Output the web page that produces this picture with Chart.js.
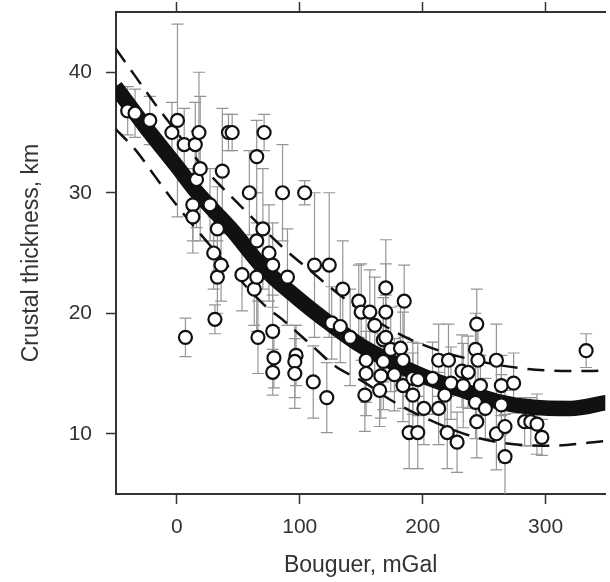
<!DOCTYPE html>
<html>
<head>
<meta charset="utf-8">
<script src="https://cdn.jsdelivr.net/npm/chart.js@4/dist/chart.umd.min.js"></script>
<style>
  html, body { margin: 0; padding: 0; background: #fff; overflow: hidden; }
  #wrap { width: 610px; height: 582px; overflow: hidden; }
  canvas { display: block; }
</style>
</head>
<body>
<div id="wrap"><canvas id="crustChart" width="614" height="582"></canvas></div>
<script>
// station values: Bouguer anomaly (mGal), crustal thickness (km), half error (km)
const bouguer = [
   -40, -34, -22, -4, 0.5, 6, 7, 13, 13, 15, 16, 18, 19, 27, 30, 31, 33, 33, 36, 37,
   42, 45, 53, 59, 63, 65, 65, 65, 66, 70, 71, 75, 78, 78, 79, 78, 86, 90, 97, 96,
   96, 104, 111, 112, 122, 124, 126, 133, 135, 141, 148, 150, 153, 154, 154, 157, 161, 165, 166, 168,
   168, 170, 170, 170, 174, 177, 182, 184, 184, 185, 189, 192, 192, 196, 196, 201, 208, 213, 213, 218,
   220, 221, 223, 228, 232, 233, 237, 243, 243, 244, 244, 245, 247, 251, 260, 260, 264, 264, 267, 267,
   274, 283, 288, 293, 297, 333,
];
const thickness = [
   36.8, 36.6, 36.0, 35.0, 36.0, 34.0, 18.0, 29.0, 28.0, 34.0, 31.1, 35.0, 32.0, 29.0, 25.0, 19.5, 27.0, 23.0, 24.0, 31.8,
   35.0, 35.0, 23.2, 30.0, 22.0, 33.0, 26.0, 23.0, 18.0, 27.0, 35.0, 25.0, 24.0, 18.5, 16.3, 15.1, 30.0, 23.0, 16.5, 16.0,
   15.0, 30.0, 14.3, 24.0, 13.0, 24.0, 19.2, 18.9, 22.0, 18.0, 21.0, 20.1, 13.2, 16.1, 15.0, 20.1, 19.0, 13.6, 14.8, 16.0,
   17.8, 22.1, 20.1, 18.0, 17.0, 14.9, 17.1, 16.1, 14.0, 21.0, 10.1, 13.2, 14.6, 14.5, 10.1, 12.1, 14.6, 16.1, 12.1, 13.2,
   10.1, 16.1, 14.2, 9.3, 15.2, 14.0, 15.1, 17.0, 12.6, 19.1, 11.0, 16.1, 14.0, 12.1, 16.1, 10.0, 14.0, 12.4, 10.6, 8.1,
   14.2, 11.0, 11.0, 10.8, 9.7, 16.9,
];
const errHalf = [
   2.0, 2.0, 2.0, 2.5, 8.0, 3.0, 1.6, 3.0, 3.0, 3.5, 4.0, 5.0, 6.0, 3.0, 3.0, 1.2, 3.5, 3.0, 3.0, 5.2,
   1.5, 1.5, 3.0, 3.5, 3.0, 3.0, 4.0, 4.5, 3.0, 5.0, 1.5, 4.0, 3.5, 3.0, 2.5, 1.9, 4.0, 4.0, 2.5, 3.0,
   2.9, 1.0, 3.0, 6.0, 2.9, 6.0, 3.0, 3.0, 4.0, 4.0, 3.0, 4.0, 3.0, 3.5, 3.5, 3.5, 4.0, 3.0, 3.5, 4.0,
   3.5, 4.0, 4.0, 3.5, 3.5, 3.0, 3.5, 4.0, 3.0, 3.0, 3.0, 3.5, 3.0, 3.0, 3.0, 3.0, 3.0, 3.0, 3.0, 3.0,
   3.0, 3.0, 3.0, 2.5, 3.0, 3.5, 3.0, 3.0, 3.0, 2.9, 3.0, 3.0, 2.5, 2.5, 3.0, 3.0, 2.5, 2.5, 3.0, 3.5,
   2.5, 2.0, 2.0, 2.5, 1.5, 1.4,
];

// fitted curve and its dashed bounds
const fitX = [-50, -25, 0, 15, 45, 70, 100, 125, 150, 170, 200, 230, 260, 290, 320, 350];
const fitY = [38.8, 35.4, 32.2, 30.2, 26.9, 23.8, 21.1, 19.1, 17.3, 16.2, 14.8, 13.7, 12.7, 12.2, 12.1, 12.6];
const upperX = [-50, -34, -18, 0, 20, 50, 88, 109, 129, 150, 170, 195, 230, 283, 336, 350];
const upperY = [42.0, 39.7, 37.4, 35.0, 32.3, 29.1, 25.3, 23.5, 21.8, 20.2, 18.9, 17.6, 16.4, 15.4, 15.2, 15.3];
const lowerX = [-50, -34, -18, -5, 14, 71, 88, 109, 129, 152, 174, 198, 247, 303, 339, 350];
const lowerY = [35.3, 33.6, 31.4, 29.6, 27.2, 20.7, 19.3, 17.4, 15.6, 14.3, 12.8, 11.5, 9.6, 9.0, 9.3, 9.4];

const xTicks = [0, 100, 200, 300];
const yTicks = [10, 20, 30, 40];

const INK = "#333";
const tickFont = { family: "'Liberation Sans', Arial, sans-serif", size: 21 };
const titleFont = { family: "'Liberation Sans', Arial, sans-serif", size: 23 };

const pairs = (xs, ys) => xs.map((v, i) => ({ x: v, y: ys[i] }));

const errorBars = {
   id: "errorBars",
   beforeDatasetsDraw(chart) {
      const { ctx, chartArea: a, scales: { x, y } } = chart;
      ctx.save();
      ctx.beginPath();
      ctx.rect(a.left, a.top, a.right - a.left, a.bottom - a.top);
      ctx.clip();
      ctx.strokeStyle = "#959595";
      ctx.lineWidth = 1.2;
      bouguer.forEach((b, i) => {
         const px = x.getPixelForValue(b);
         const lo = y.getPixelForValue(thickness[i] - errHalf[i]);
         const hi = y.getPixelForValue(thickness[i] + errHalf[i]);
         ctx.beginPath();
         ctx.moveTo(px, lo); ctx.lineTo(px, hi);
         ctx.moveTo(px - 6, lo); ctx.lineTo(px + 6, lo);
         ctx.moveTo(px - 6, hi); ctx.lineTo(px + 6, hi);
         ctx.stroke();
      });
      ctx.restore();
   },
};

// fixed box sizes so the plot frame lands where it is in the figure
const fixBox = (w, h) => s => {
   if (w != null) s.width = w;
   if (h != null) s.height = h;
   s.paddingTop = 0; s.paddingBottom = 0; s.paddingLeft = 0; s.paddingRight = 0;
};

const axisGrid = { drawOnChartArea: false, drawTicks: true, tickLength: 10, tickColor: INK, tickWidth: 1.5, color: INK };
const axisBorder = { display: true, color: INK, width: 2 };
const lineStyle = { showLine: true, cubicInterpolationMode: "monotone", pointRadius: 0, borderColor: "#111" };

new Chart(document.getElementById("crustChart"), {
   type: "scatter",
   data: {
      datasets: [
         {
            data: pairs(bouguer, thickness),
            pointRadius: 6.5,
            pointBorderWidth: 2.2,
            pointBorderColor: "#111",
            pointBackgroundColor: "#fff",
            order: 0,
         },
         { data: pairs(upperX, upperY), ...lineStyle, borderWidth: 2.5, borderDash: [17, 10], order: 1 },
         { data: pairs(lowerX, lowerY), ...lineStyle, borderWidth: 2.5, borderDash: [17, 10], order: 1 },
         { data: pairs(fitX, fitY), ...lineStyle, borderWidth: 15.5, borderCapStyle: "butt", order: 2 },
      ],
   },
   options: {
      responsive: false,
      animation: false,
      devicePixelRatio: 1,
      layout: { padding: { left: 0, right: 2, top: 0, bottom: 0 } },
      plugins: { legend: { display: false }, tooltip: { enabled: false } },
      scales: {
         x: {
            type: "linear", position: "bottom", min: -49.5, max: 348.6,
            afterBuildTicks: s => { s.ticks = xTicks.map(v => ({ value: v })); },
            afterFit: fixBox(null, 88),
            grid: axisGrid, border: axisBorder,
            ticks: { color: INK, font: tickFont, padding: 11, maxRotation: 0 },
            title: { display: true, text: "Bouguer, mGal", color: INK, font: titleFont, padding: { top: 3, bottom: 3 } },
         },
         x2: {
            type: "linear", position: "top", min: -49.5, max: 348.6,
            afterBuildTicks: s => { s.ticks = xTicks.map(v => ({ value: v })); },
            afterFit: fixBox(null, 12),
            grid: axisGrid, border: axisBorder,
            ticks: { display: false },
         },
         y: {
            type: "linear", position: "left", min: 5, max: 45,
            afterBuildTicks: s => { s.ticks = yTicks.map(v => ({ value: v })); },
            afterFit: fixBox(116, null),
            grid: axisGrid, border: axisBorder,
            ticks: { color: INK, font: tickFont, padding: 14 },
            title: { display: true, text: "Crustal thickness, km", color: INK, font: titleFont, padding: { top: 18, bottom: 18 } },
         },
      },
   },
   plugins: [errorBars],
});
</script>
</body>
</html>
